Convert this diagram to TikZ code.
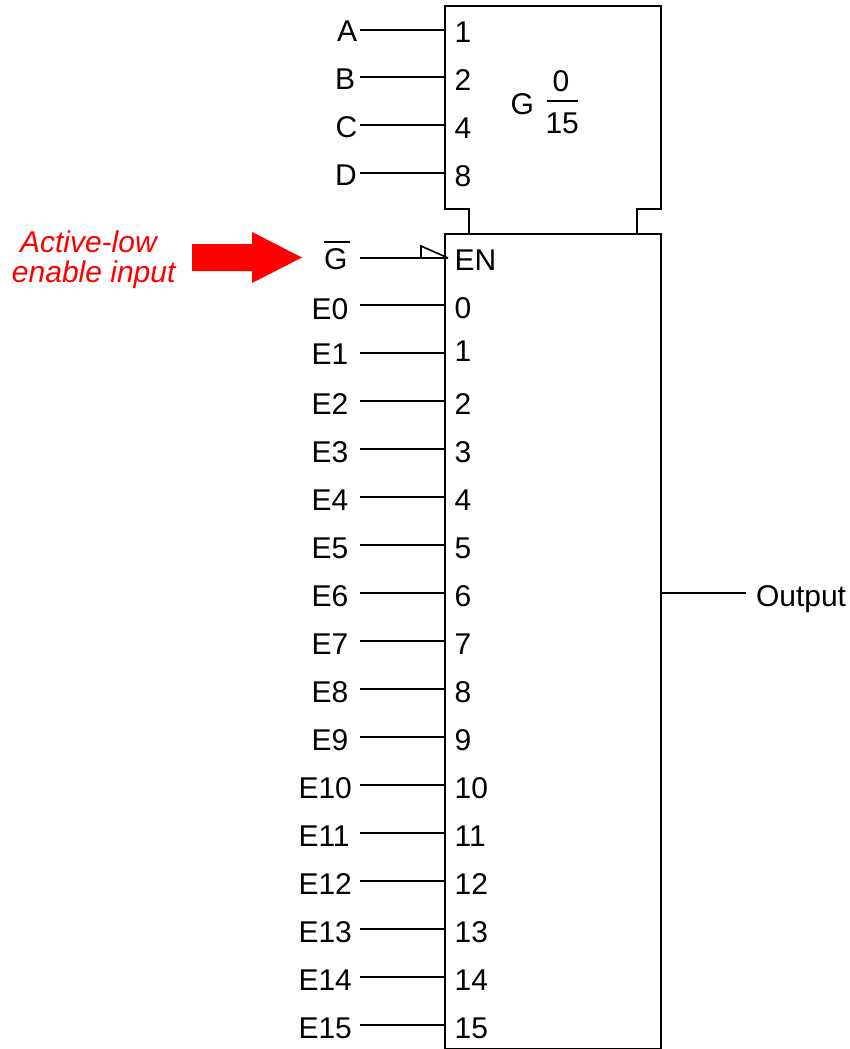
\documentclass[tikz,border=0pt]{standalone}
\usepackage{fontspec}
\setmainfont{Liberation Sans}
\begin{document}
\begin{tikzpicture}[x=1pt,y=-1pt,
  wire/.style={line width=1.6pt,draw=black,line cap=butt},
  lbl/.style={inner sep=0pt,outer sep=0pt,anchor=base west,font=\fontsize{30}{34}\selectfont,text=black},
  note/.style={inner sep=0pt,outer sep=0pt,anchor=base west,font=\fontsize{30}{34}\selectfont\itshape,text=red},
  blockbox/.style={draw=black,line width=1.6pt,fill=none,inner sep=0pt,outer sep=0pt,rectangle,anchor=north west}]
\useasboundingbox (0,0) rectangle (850,1049);
% control block outline
\draw[wire,line join=miter] (469,234) -- (469,209) -- (445,209) -- (445,6) -- (661,6) -- (661,209) -- (637,209) -- (637,234);
\node[blockbox,minimum width=216pt,minimum height=815.05pt] (mainblk) at (445,234) {};
% control block contents
\node[inner sep=0pt] (ctrlbar) at (562.5,101) {\tikz[x=1pt]\draw[line width=1.6pt] (0,0) -- (31,0);};
\node[lbl] (gq) at (510.5,114) {G};
\node[lbl] (gtop) at (552.5,91) {0};
\node[lbl] (gbot) at (545.5,133) {15};
% control inputs
\foreach \n/\t/\ly/\x/\py in {a/A/30/337/1,b/B/77/335/2,c/C/125/335.5/4,d/D/173/335/8}{
  \node[lbl] (\n lab) at (\x,\ly+12) {\t};
  \node[lbl] (\n pin) at (454.6,\ly+13) {\py};
  \coordinate (\n s) at (360,\ly);
  \coordinate (\n e) at (445,\ly);
  \draw[wire] (\n s) -- (\n e);
}
% enable input
\node[lbl] (glab) at (324,269) {G};
\coordinate (gbarl) at (324,242);
\coordinate (gbarr) at (350,242);
\draw[line width=1.6pt] (gbarl) -- (gbarr);
\node[lbl] (enlab) at (454.6,270) {EN};
\coordinate (gs) at (360,258);
\coordinate (ge) at (448,258);
\draw[wire] (gs) -- (ge);
\draw[wire,line join=miter] (ge) -- (421,246) -- (421,258);
% data inputs
\foreach \i/\ly/\x/\py/\lb in {0/305/311.5/318/319,1/353/311.5/361/364,2/401/311.5/414/414,3/449/311.5/462/462,4/497/311.5/510/510,5/545/311.5/558/558,6/593/311.5/606/606,7/641/311.5/654/654,8/689/311.5/702/702,9/737/311.5/750/750,10/785/298.5/798/798,11/833/298.5/846/846,12/881/298.5/894/894,13/929/298.5/942/942,14/977/298.5/990/990,15/1025/298.5/1038/1038}{
  \node[lbl] (e\i lab) at (\x,\lb) {E\i};
  \node[lbl] (e\i pin) at (454.6,\py) {\i};
  \coordinate (e\i s) at (360,\ly);
  \coordinate (e\i e) at (445,\ly);
  \draw[wire] (e\i s) -- (e\i e);
}
% output
\coordinate (outs) at (661,593);
\coordinate (oute) at (746,593);
\draw[wire] (outs) -- (oute);
\node[lbl] (outlab) at (756,606) {Output};
% annotation
\node[note] (n1) at (20,252) {Active-low};
\node[note] (n2) at (12,282) {enable input};
\fill[red] (192,244) -- (252,244) -- (252,232) -- (302,257.5) -- (252,283) -- (252,271) -- (192,271) -- cycle;
\end{tikzpicture}
\end{document}
